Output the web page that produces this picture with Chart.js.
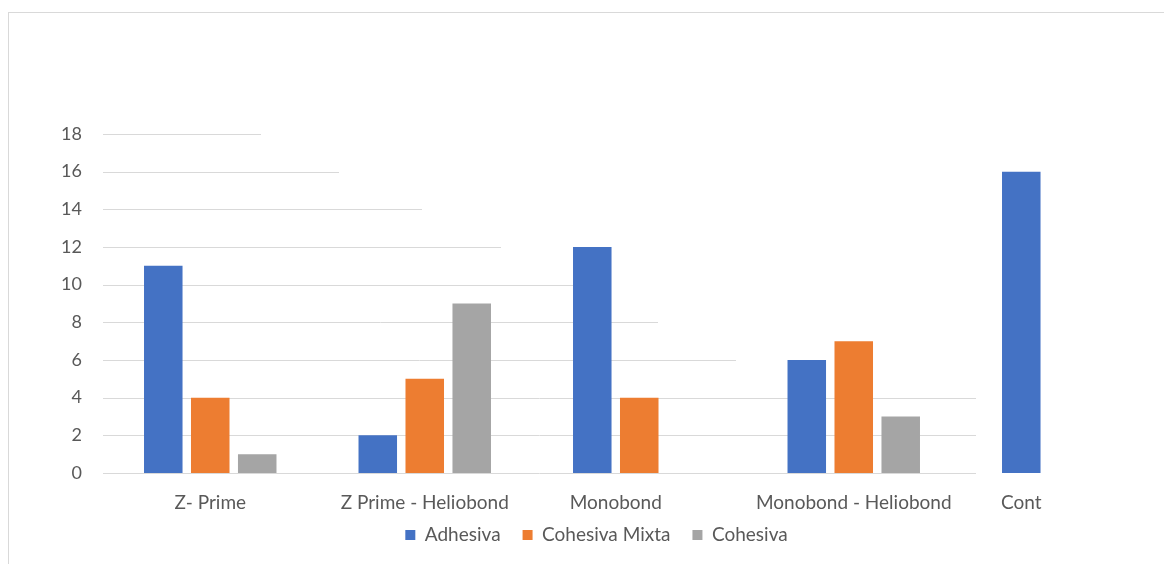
<!DOCTYPE html>
<html>
<head>
<meta charset="utf-8">
<script src="https://cdn.jsdelivr.net/npm/chart.js@4"></script>
<style>
html, body { margin: 0; padding: 0; overflow: hidden; background: #fff; }
#frame { position: absolute; left: 8px; top: 12px; width: 1300px; height: 700px; border: 1px solid #d9d9d9; }
#myChart { position: absolute; left: 0; top: 0; }
</style>
</head>
<body>
<div id="frame"></div>
<canvas id="myChart" width="1192" height="564"></canvas>
<script>
/*----------------------------- data -----------------------------*/
const categories = ['Z- Prime', 'Z Prime - Heliobond', 'Monobond', 'Monobond - Heliobond', 'Cont'];
const adhesiva = [11, 2, 12, 6, 16];
const cohesivaMixta = [4, 5, 4, 7, 0];
const cohesiva = [1, 9, 0, 3, 0];
const yTicks = [0, 2, 4, 6, 8, 10, 12, 14, 16, 18];

const textColor = '#595959';
const gridColor = '#d9d9d9';
Chart.defaults.font.family = 'Lato';
Chart.defaults.font.size = 19;
Chart.defaults.color = textColor;

/*----------------------- grid en escalera -----------------------*/
// cada linea termina en un x distinto (como en la imagen)
const stairGrid = {
    id: 'stairGrid',
    beforeDatasetsDraw(chart, args, opts) {
        const ctx = chart.ctx;
        const y = chart.scales.y;
        const left = chart.chartArea.left;
        ctx.save();
        ctx.strokeStyle = gridColor;
        ctx.lineWidth = 1;
        yTicks.forEach(v => {
            const py = Math.round(y.getPixelForValue(v)) + 0.5;
            ctx.beginPath();
            ctx.moveTo(left, py);
            ctx.lineTo(opts.ends[v], py);
            ctx.stroke();
        });
        ctx.restore();
    }
};

// etiquetas del eje x centradas en las barras que no son cero
const groupLabels = {
    id: 'groupLabels',
    afterDatasetsDraw(chart) {
        const ctx = chart.ctx;
        ctx.save();
        ctx.fillStyle = textColor;
        ctx.font = '19px Lato';
        ctx.textAlign = 'center';
        ctx.textBaseline = 'middle';
        categories.forEach((label, i) => {
            let sum = 0, n = 0;
            chart.data.datasets.forEach((ds, d) => {
                if (ds.data[i] > 0) {
                    sum += chart.getDatasetMeta(d).data[i].x;
                    n++;
                }
            });
            ctx.fillText(label, sum / n, chart.chartArea.bottom + 29.5);
        });
        ctx.restore();
    }
};

const myChart = new Chart(document.getElementById('myChart'), {
    type: 'bar',
    data: {
        labels: categories,
        datasets: [
            { label: 'Adhesiva', data: adhesiva, backgroundColor: '#4472c4' },
            { label: 'Cohesiva Mixta', data: cohesivaMixta, backgroundColor: '#ed7d31' },
            { label: 'Cohesiva', data: cohesiva, backgroundColor: '#a5a5a5' }
        ]
    },
    plugins: [stairGrid, groupLabels],
    options: {
        responsive: false,
        animation: false,
        events: [],
        categoryPercentage: 0.657,
        barPercentage: 0.82,
        layout: {
            padding: { top: 134, left: 17.5, right: 16.5, bottom: 9.5 }
        },
        plugins: {
            legend: {
                position: 'bottom',
                labels: { boxWidth: 10, boxHeight: 10, padding: 22 }
            },
            tooltip: { enabled: false },
            stairGrid: {
                ends: { 18: 261, 16: 339, 14: 422, 12: 501, 10: 580, 8: 658, 6: 736, 4: 976, 2: 976, 0: 976 }
            }
        },
        scales: {
            x: {
                grid: { display: false },
                border: { display: false },
                ticks: { display: false },
                afterFit(scale) { scale.height = 30.5; }
            },
            y: {
                min: 0,
                max: 18,
                grid: { display: false, drawTicks: false },
                border: { display: false },
                ticks: { stepSize: 2, padding: 21, font: { size: 18 } },
                afterFit(scale) { scale.width = 85.5; }
            }
        }
    }
});
</script>
</body>
</html>
